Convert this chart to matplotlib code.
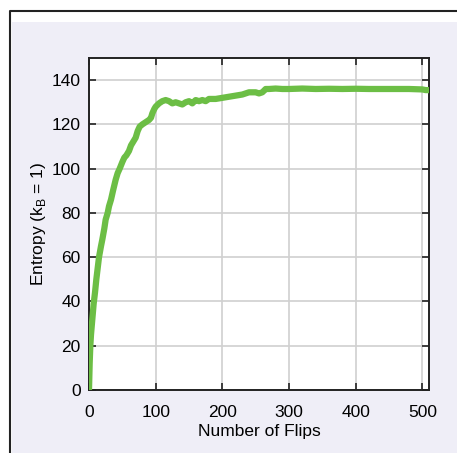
import matplotlib.pyplot as plt
from matplotlib.patches import Rectangle
from matplotlib.lines import Line2D

plt.rcParams['font.family'] = ['Liberation Sans', 'DejaVu Sans']

# entropy, one point per flip count
flips = [0, 1, 2, 3, 5, 7, 9, 11, 13, 15, 18, 20, 23, 25, 28, 30, 33, 36,
         40, 43, 46, 50, 53, 56, 60, 63, 66, 70, 73, 76, 80, 85, 90, 93, 95,
         98, 100, 105, 110, 115, 120, 125, 130, 135, 140, 145, 150, 155, 160,
         165, 170, 175, 180, 190, 200, 210, 220, 230, 240, 250, 255, 260, 265,
         270, 280, 290, 300, 320, 340, 360, 380, 400, 420, 440, 460, 480, 500,
         505, 510]
entropy = [0, 12, 20, 25, 32, 39, 44, 50, 55, 60, 65, 68, 73, 77, 80, 83,
           86, 90, 95, 98, 100, 103, 105, 106, 108, 110.5, 112, 114, 117, 119,
           120, 121, 122, 123, 125, 127, 128, 129.5, 130.5, 131, 130.5, 129.5,
           130, 129.5, 129, 130, 130.5, 129.5, 131, 130.5, 131, 130.5, 131.5,
           131.5, 132, 132.5, 133, 133.5, 134.5, 134.5, 134, 134.5, 136, 136,
           136.2, 136, 136, 136.2, 136, 136.1, 136, 136.1, 136, 136, 136, 136,
           135.8, 135.5, 135.5]

xticks = [0, 100, 200, 300, 400, 500]
yticks = [0, 20, 40, 60, 80, 100, 120, 140]

W, H = 457, 453
fig = plt.figure(figsize=(W / 100, H / 100), dpi=100)
fig.patch.set_facecolor('white')

# lavender panel and dark frame lines, kept under the axes
fig.patches.append(Rectangle((12 / W, 0), 1 - 12 / W, (H - 22) / H,
                             transform=fig.transFigure, facecolor='#EFEEF7',
                             edgecolor='none', zorder=-10))
fig.lines.append(Line2D([10 / W, 10 / W, 1], [0, (H - 10.5) / H, (H - 10.5) / H],
                        transform=fig.transFigure, color='#222222', lw=1.5,
                        zorder=-9))

ax = fig.add_axes([89 / W, (H - 390) / H, (429 - 89) / W, (390 - 58) / H])
ax.set_facecolor('white')
ax.plot(flips, entropy, color='#6CBE45', lw=4.5, solid_joinstyle='round',
        solid_capstyle='butt', zorder=3)

ax.set_xlim(0, 510)
ax.set_ylim(0, 150)
ax.set_xticks(xticks)
ax.set_yticks(yticks)
ax.grid(True, color='#d0d0d0', lw=1.2)
ax.set_axisbelow(True)
ax.tick_params(direction='in', top=True, right=True, length=5, width=1.2,
               labelsize=12.5, color='#222222')
ax.tick_params(axis='x', pad=11)
ax.tick_params(axis='y', pad=6)
for s in ax.spines.values():
    s.set_linewidth(1.4)
    s.set_color('#222222')

ax.set_xlabel('Number of Flips', fontsize=12.5, labelpad=3)
ax.set_ylabel(r'Entropy (k$_\mathregular{B}$ = 1)', fontsize=12.5, labelpad=3)

fig.savefig('out.png', dpi=100)
